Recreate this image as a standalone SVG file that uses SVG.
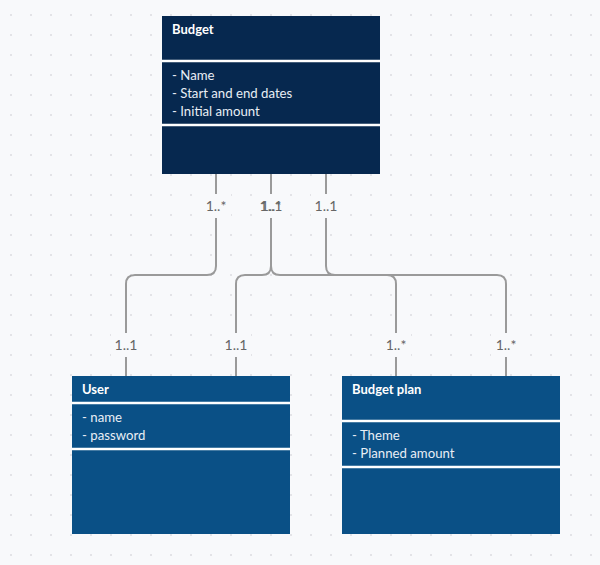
<svg xmlns="http://www.w3.org/2000/svg" width="600" height="565" viewBox="0 0 600 565">
<defs>
<pattern id="dots" x="1" y="5" width="20" height="20" patternUnits="userSpaceOnUse">
<circle cx="10" cy="10" r="1" fill="#dcdde0"/>
</pattern>
<style>
.bg{fill:#f8f9fb}
.dark{fill:#06284f}
.mid{fill:#0a5086}
.sep{stroke:#ffffff;stroke-width:2.5}
.title{font-family:Lato,"Liberation Sans",sans-serif;font-size:13px;font-weight:bold;fill:#ffffff}
.attr{font-family:Lato,"Liberation Sans",sans-serif;font-size:13.2px;fill:#e8eef5}
.conn{fill:none;stroke:#9a9a9a;stroke-width:2}
.lblbg{fill:#f8f9fb}
.lbl{font-family:Lato,"Liberation Sans",sans-serif;font-size:14px;fill:#666666;text-anchor:middle}
</style>
</defs>
<rect class="bg" x="0" y="0" width="600" height="565"/>
<rect x="0" y="0" width="600" height="565" fill="url(#dots)"/>

<g id="connectors">
<path class="conn" d="M216 174 V266 Q216 275 207 275 H135 Q126 275 126 284 V376"/>
<path class="conn" d="M271 174 V266 Q271 275 262 275 H245 Q236 275 236 284 V376"/>
<path class="conn" d="M271 266 Q271 275 280 275 H387 Q396 275 396 284 V376"/>
<path class="conn" d="M326 174 V266 Q326 275 335 275 H497 Q506 275 506 284 V376"/>
<rect class="lblbg" x="201" y="194" width="30" height="24"/>
<rect class="lblbg" x="256" y="194" width="30" height="24"/>
<rect class="lblbg" x="311" y="194" width="30" height="24"/>
<rect class="lblbg" x="111" y="333" width="30" height="24"/>
<rect class="lblbg" x="221" y="333" width="30" height="24"/>
<rect class="lblbg" x="381" y="333" width="30" height="24"/>
<rect class="lblbg" x="491" y="333" width="30" height="24"/>
<text class="lbl" x="216" y="211">1..*</text>
<text class="lbl" x="271" y="211">1..*</text>
<text class="lbl" x="271" y="211">1..1</text>
<text class="lbl" x="326" y="211">1..1</text>
<text class="lbl" x="126" y="350">1..1</text>
<text class="lbl" x="236" y="350">1..1</text>
<text class="lbl" x="396" y="350">1..*</text>
<text class="lbl" x="506" y="350">1..*</text>
</g>

<g id="budget">
<rect class="dark" x="162" y="16" width="218" height="158"/>
<line class="sep" x1="162" y1="61" x2="380" y2="61"/>
<line class="sep" x1="162" y1="125" x2="380" y2="125"/>
<text class="title" x="172" y="34">Budget</text>
<text class="attr" x="172" y="80">- Name</text>
<text class="attr" x="172" y="98">- Start and end dates</text>
<text class="attr" x="172" y="116">- Initial amount</text>
</g>

<g id="user">
<rect class="mid" x="72" y="376" width="218" height="158"/>
<line class="sep" x1="72" y1="403" x2="290" y2="403"/>
<line class="sep" x1="72" y1="449" x2="290" y2="449"/>
<text class="title" x="82" y="394">User</text>
<text class="attr" x="82" y="422">- name</text>
<text class="attr" x="82" y="440">- password</text>
</g>

<g id="budget-plan">
<rect class="mid" x="342" y="376" width="218" height="158"/>
<line class="sep" x1="342" y1="421" x2="560" y2="421"/>
<line class="sep" x1="342" y1="467" x2="560" y2="467"/>
<text class="title" x="352" y="394">Budget plan</text>
<text class="attr" x="352" y="440">- Theme</text>
<text class="attr" x="352" y="458">- Planned amount</text>
</g>
</svg>
